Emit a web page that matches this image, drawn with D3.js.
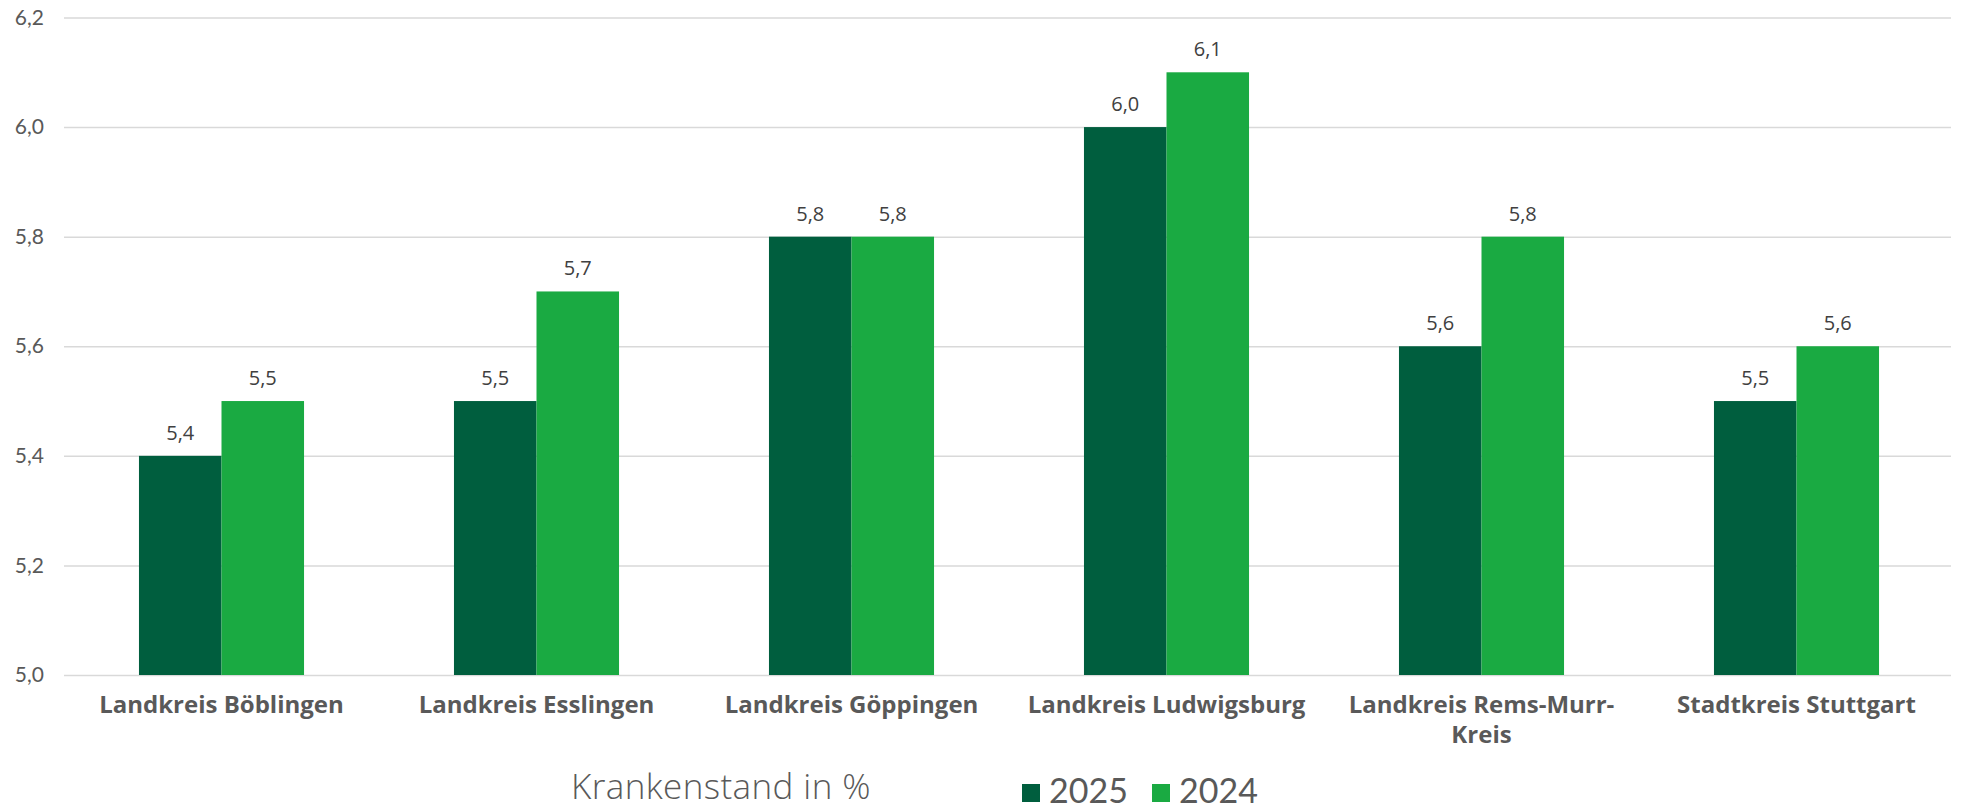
<!DOCTYPE html>
<html><head><meta charset="utf-8">
<script src="https://cdn.jsdelivr.net/npm/d3@7"></script>
<style>
body{margin:0;background:#fff;}
svg{display:block;}
</style></head>
<body>
<svg id="chart" width="1961" height="809"></svg>
<script>
const categories = ["Landkreis Böblingen","Landkreis Esslingen","Landkreis Göppingen","Landkreis Ludwigsburg","Landkreis Rems-Murr-Kreis","Stadtkreis Stuttgart"];
const seriesNames = ["2025","2024"];
const values2025 = [5.4,5.5,5.8,6.0,5.6,5.5];
const values2024 = [5.5,5.7,5.8,6.1,5.8,5.6];
const yTicks = [5.0,5.2,5.4,5.6,5.8,6.0,6.2];
const colors = ["#005E3E","#1AAA42"];
const axisTitle = "Krankenstand in %";

const svg = d3.select("#chart");
const fmt = v => v.toFixed(1).replace(".", ",");
const plotLeft = 64, plotRight = 1954, plotTop = 17.5, plotBottom = 675;

const y = d3.scaleLinear().domain([5.0, 6.2]).range([plotBottom, plotTop]);
const x0 = d3.scaleBand().domain(categories).range([plotLeft, plotRight]).paddingInner(0.476).paddingOuter(0.238);
const x1 = d3.scaleBand().domain(seriesNames).range([0, x0.bandwidth()]);

// gridlines + y labels
const yAxis = d3.axisLeft(y).tickValues(yTicks).tickSize(-(1951 - plotLeft)).tickFormat(fmt).tickPadding(20);
const gy = svg.append("g").attr("transform", `translate(${plotLeft},0)`).call(yAxis);
gy.select(".domain").remove();
gy.selectAll(".tick line").attr("stroke", "#d9d9d9").attr("stroke-width", 1.5);
gy.selectAll(".tick text").attr("fill", "#595959").style("font-family", "Lato, sans-serif").style("font-size", "21px");

// bars
const data = categories.map((c, i) => ({c, vals: [values2025[i], values2024[i]]}));
const groups = svg.append("g").selectAll("g").data(data).join("g")
  .attr("transform", d => `translate(${x0(d.c)},0)`);
groups.selectAll("rect").data(d => d.vals.map((v, j) => ({v, s: seriesNames[j], j}))).join("rect")
  .attr("x", d => x1(d.s)).attr("width", x1.bandwidth())
  .attr("y", d => y(d.v)).attr("height", d => y(5.0) - y(d.v))
  .attr("fill", d => colors[d.j]);
groups.selectAll("text.val").data(d => d.vals.map((v, j) => ({v, s: seriesNames[j]}))).join("text")
  .attr("class", "val")
  .attr("x", d => x1(d.s) + x1.bandwidth() / 2)
  .attr("y", d => y(d.v) - 16)
  .attr("text-anchor", "middle")
  .attr("fill", "#404040")
  .style("font-family", "'Open Sans', sans-serif").style("font-size", "20px")
  .text(d => fmt(d.v));

// x axis labels
const xAxis = d3.axisBottom(x0).tickSize(0).tickPadding(21);
const gx = svg.append("g").attr("transform", `translate(0,${plotBottom})`).call(xAxis);
gx.select(".domain").remove();
gx.selectAll(".tick text").attr("fill", "#595959")
  .style("font-family", "'Open Sans', sans-serif").style("font-size", "24px").style("font-weight", "700")
  .each(function(d) {
    const t = d3.select(this);
    if (this.getComputedTextLength() > 300) {
      const idx = d.lastIndexOf("-");
      const l1 = d.slice(0, idx + 1), l2 = d.slice(idx + 1);
      const yy = t.attr("y");
      t.text(null);
      t.append("tspan").attr("x", 0).attr("y", yy).attr("dy", "0.71em").text(l1);
      t.append("tspan").attr("x", 0).attr("y", yy).attr("dy", "1.96em").text(l2);
    }
  });

// axis title & legend
svg.append("text").attr("x", 571).attr("y", 799).attr("fill", "#595959")
  .style("font-family", "'Open Sans', sans-serif").style("font-weight", "300").style("font-size", "35px")
  .style("letter-spacing", "0.4px").text(axisTitle);
const legendX = [1022, 1152];
const lg = svg.append("g").selectAll("g").data(seriesNames).join("g")
  .attr("transform", (d, i) => `translate(${legendX[i]},0)`);
lg.append("rect").attr("x", 0).attr("y", 784).attr("width", 18).attr("height", 18).attr("fill", (d, i) => colors[i]);
lg.append("text").attr("x", 27).attr("y", 803).attr("fill", "#595959")
  .style("font-family", "Lato, sans-serif").style("font-size", "34px").text(d => d);
</script>
</body></html>
